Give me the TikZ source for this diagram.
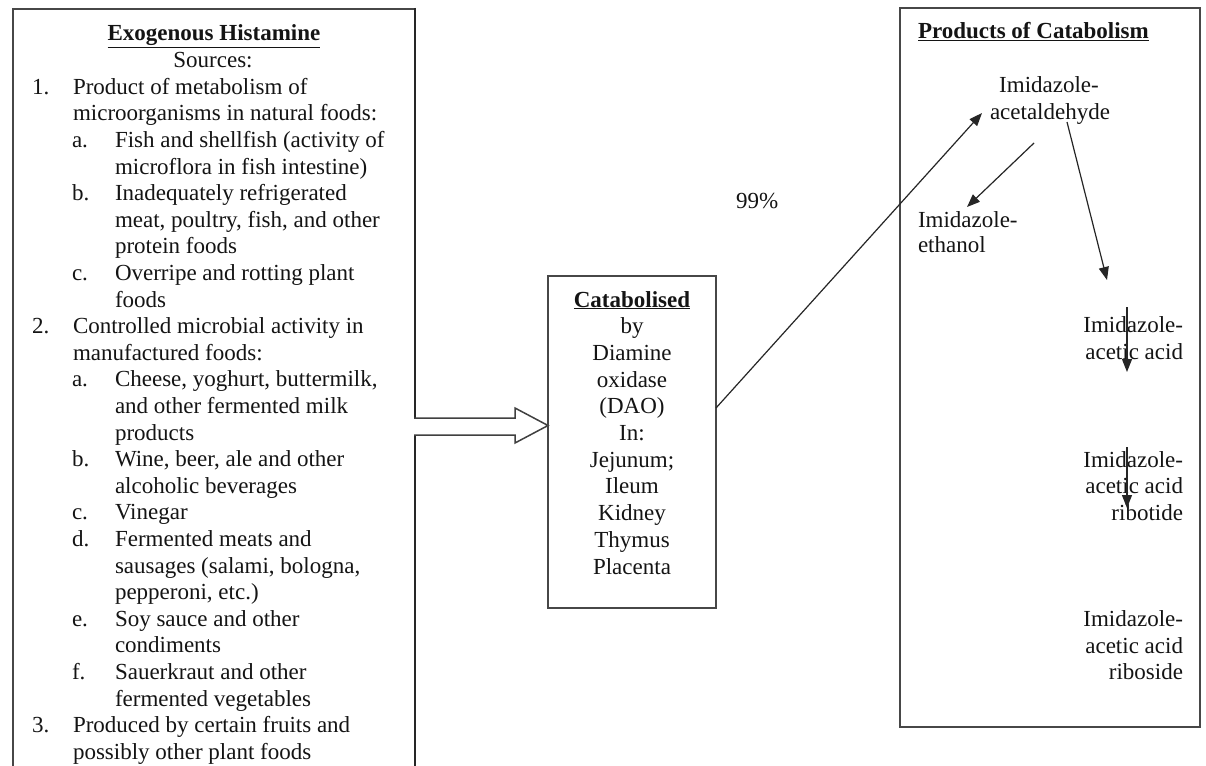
\documentclass[tikz,border=0pt]{standalone}
\usepackage{fontspec}
\setmainfont{Liberation Serif}
\usetikzlibrary{arrows.meta}
\tikzset{
  t/.style={font=\fontsize{23}{26.6}\selectfont, inner sep=0pt, outer sep=0pt, text=black!92},
  boxline/.style={draw=black!72, line width=1.6pt},
  arr/.style={draw=black!85, line width=1.2pt, -{Triangle[length=13pt,width=10pt]}},
}
\newcommand\Lt[4]{\node[t,anchor=base west] (#1) at (#2,{41+26.6*#3}) {#4};}
\newcommand\Mt[3]{\node[t,anchor=base] (#1) at (632,{307+26.7*#2}) {#3};}
\begin{document}
\begin{tikzpicture}[x=1pt,y=-1pt]
\useasboundingbox[fill=white] (0,0) rectangle (1206,765);
% left box (open at the bottom)
\draw[boxline] (13,780) -- (13,9) -- (415,9);
\draw[draw=black!85, line width=2.4pt] (415,8) -- (415,780);
\node[t,anchor=base] (lh) at (214,41) {\textbf{\underline{Exogenous Histamine}}};
\node[t,anchor=base] (ls) at (213,68) {Sources:};
\Lt{n1}{32}{2}{1.}
\Lt{l2}{73}{2}{Product of metabolism of}
\Lt{l3}{73}{3}{microorganisms in natural foods:}
\Lt{a1}{72}{4}{a.}
\Lt{l4}{115}{4}{Fish and shellfish (activity of}
\Lt{l5}{115}{5}{microflora in fish intestine)}
\Lt{b1}{72}{6}{b.}
\Lt{l6}{115}{6}{Inadequately refrigerated}
\Lt{l7}{115}{7}{meat, poultry, fish, and other}
\Lt{l8}{115}{8}{protein foods}
\Lt{c1}{72}{9}{c.}
\Lt{l9}{115}{9}{Overripe and rotting plant}
\Lt{l10}{115}{10}{foods}
\Lt{n2}{32}{11}{2.}
\Lt{l11}{73}{11}{Controlled microbial activity in}
\Lt{l12}{73}{12}{manufactured foods:}
\Lt{a2}{72}{13}{a.}
\Lt{l13}{115}{13}{Cheese, yoghurt, buttermilk,}
\Lt{l14}{115}{14}{and other fermented milk}
\Lt{l15}{115}{15}{products}
\Lt{b2}{72}{16}{b.}
\Lt{l16}{115}{16}{Wine, beer, ale and other}
\Lt{l17}{115}{17}{alcoholic beverages}
\Lt{c2}{72}{18}{c.}
\Lt{l18}{115}{18}{Vinegar}
\Lt{d2}{72}{19}{d.}
\Lt{l19}{115}{19}{Fermented meats and}
\Lt{l20}{115}{20}{sausages (salami, bologna,}
\Lt{l21}{115}{21}{pepperoni, etc.)}
\Lt{e2}{72}{22}{e.}
\Lt{l22}{115}{22}{Soy sauce and other}
\Lt{l23}{115}{23}{condiments}
\Lt{f2}{72}{24}{f.}
\Lt{l24}{115}{24}{Sauerkraut and other}
\Lt{l25}{115}{25}{fermented vegetables}
\Lt{n3}{32}{26}{3.}
\Lt{l26}{73}{26}{Produced by certain fruits and}
\Lt{l27}{73}{27}{possibly other plant foods}
% hollow arrow
\draw[draw=black!75, line width=1.5pt, fill=white] (414,418) -- (515,418) -- (515,408) -- (548,425.5) -- (515,443) -- (515,435) -- (414,435);
% middle box
\node[boxline, minimum width=168pt, minimum height=332pt, inner sep=0pt] (cat) at (632,442) {};
\Mt{m0}{0}{\textbf{\underline{Catabolised}}}
\Mt{m1}{1}{by}
\Mt{m2}{2}{Diamine}
\Mt{m3}{3}{oxidase}
\Mt{m4}{4}{(DAO)}
\Mt{m5}{5}{In:}
\Mt{m6}{6}{Jejunum;}
\Mt{m7}{7}{Ileum}
\Mt{m8}{8}{Kidney}
\Mt{m9}{9}{Thymus}
\Mt{m10}{10}{Placenta}
% right box
\node[boxline, minimum width=300pt, minimum height=719pt, inner sep=0pt] (prod) at (1050,367.5) {};
\node[t,anchor=base west] (ph) at (918,39) {\textbf{\underline{Products of Catabolism}}};
\node[t,anchor=base] (r1a) at (1049,93) {Imidazole-};
\node[t,anchor=base] (r1b) at (1050,119) {acetaldehyde};
\node[t,anchor=base west] (r2a) at (918,227) {Imidazole-};
\node[t,anchor=base west] (r2b) at (918,252) {ethanol};
\node[t,anchor=base east] (r3a) at (1183,332) {Imidazole-};
\node[t,anchor=base east] (r3b) at (1183,359) {acetic acid};
\node[t,anchor=base east] (r4a) at (1183,467) {Imidazole-};
\node[t,anchor=base east] (r4b) at (1183,493) {acetic acid};
\node[t,anchor=base east] (r4c) at (1183,520) {ribotide};
\node[t,anchor=base east] (r5a) at (1183,626) {Imidazole-};
\node[t,anchor=base east] (r5b) at (1183,653) {acetic acid};
\node[t,anchor=base east] (r5c) at (1183,679) {riboside};
\node[t,anchor=base west] (pct) at (736,208) {99\%};
% connector end points
\coordinate (s1) at (716,408);
\coordinate (e1) at (982,113);
\coordinate (s2) at (1034,143);
\coordinate (e2) at (967,207);
\coordinate (s3) at (1067,122);
\coordinate (e3) at (1107,280);
\coordinate (s4) at (1127,307);
\coordinate (e4) at (1127,372);
\coordinate (s5) at (1127,447);
\coordinate (e5) at (1127,508);
\draw[arr] (s1) -- (e1);
\draw[arr] (s2) -- (e2);
\draw[arr] (s3) -- (e3);
\draw[arr] (s4) -- (e4);
\draw[arr] (s5) -- (e5);
\end{tikzpicture}
\end{document}
